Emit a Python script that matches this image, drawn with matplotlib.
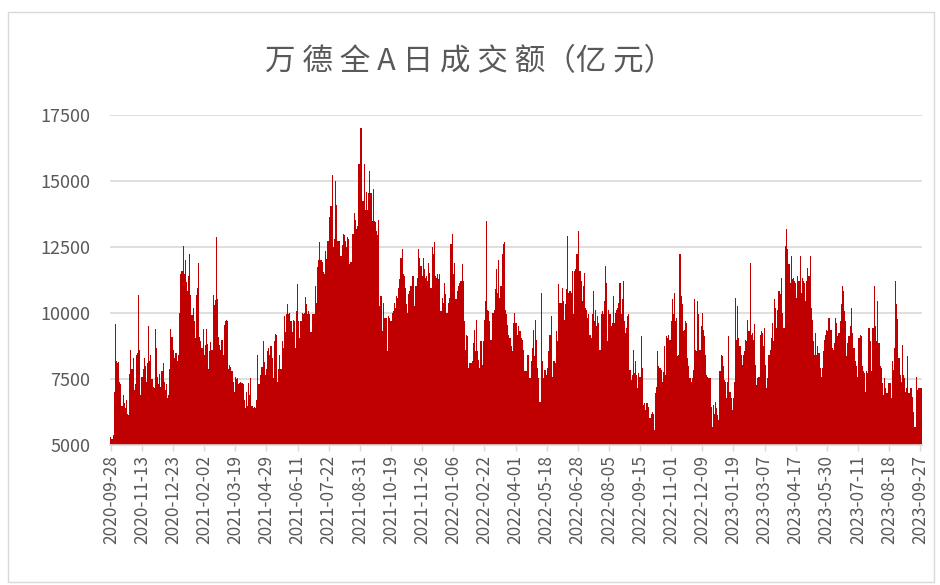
import matplotlib.pyplot as plt
import numpy as np
from matplotlib.patches import Rectangle

plt.rcParams['font.family'] = ['Noto Sans CJK SC', 'DejaVu Sans']

# 万德全A日成交额（亿元），按交易日读数
vol_2020q4 = [5300, 5250, 5400, 7000, 9600, 8200, 8100, 8150, 7400, 7300,
              6500, 6900, 6600, 6400, 6700, 6200, 6150, 7700, 8600, 7900,
              8300, 7100, 7300, 8400, 8500, 10700, 8600, 6900, 7600, 7900,
              8300, 8000, 7400, 8100, 9500, 8200, 8400, 7500, 7200, 7150,
              9400, 8700, 7600, 7300, 7700, 7200, 7800, 8100, 7400, 7100,
              7300, 6800, 6900, 7900, 9400, 9100, 8600, 8300, 8500]
vol_2021a = [8500, 8200, 8400, 10000, 11500, 11600, 12550, 11500, 12000, 11200,
             10850, 11400, 12250, 10700, 9950, 10200, 9700, 9050, 10700, 10970,
             11900, 9100, 8950, 8700, 9400, 8400, 8800, 9400, 8850, 7900,
             8550, 8900, 8600, 10700, 10300, 10500, 12870, 10550, 9100, 8800,
             8600, 9000, 8400, 9560, 9700, 9750, 9700, 7900, 8050, 7950,
             7800, 7400, 7000, 7600, 7500, 7550, 7300, 7350, 7400, 7350, 7300]
vol_2021b = [6700, 6400, 7000, 6500, 7350, 6900, 7550, 6500, 6400, 6450,
             6400, 6700, 8430, 7300, 7300, 7650, 7950, 8940, 8150, 7650,
             7900, 8550, 8700, 8430, 8750, 8300, 7550, 8940, 9200, 9190,
             7400, 7900, 8430, 7900, 8940, 8700, 9900, 9300, 9960, 10330,
             9960, 10000, 9700, 9300, 9750, 9700, 8700, 10100, 11100, 9700,
             9050, 9700, 10000, 9960, 10000, 10600, 10330, 9960, 10100, 9960, 9300]
vol_2021c = [9960, 9960, 9960, 11030, 10400, 11750, 12000, 12700, 12000, 11950,
             11550, 11500, 12370, 12050, 12750, 12750, 13640, 14080, 15220, 12500,
             12800, 15000, 14100, 12750, 12750, 12750, 12150, 12600, 13000, 12950,
             12750, 12500, 12870, 12800, 11850, 11950, 13000, 13000, 13800, 13550,
             13200, 13300, 15670, 15670, 17000, 14270, 14270, 15670, 13900, 14600,
             13900, 14550, 15400, 14550, 13500, 14720, 13500, 13450, 13100, 12950, 13550]
vol_2021d = [10270, 10650, 9320, 10400, 9830, 9830, 9830, 8560, 9900, 9830,
             9700, 10020, 10080, 10400, 10200, 10650, 10590, 10970, 11290, 12110,
             12430, 11480, 11410, 10970, 10330, 10020, 10710, 10840, 11030, 11410,
             11410, 10270, 11030, 11030, 11350, 12430, 12110, 11800, 11410, 12110,
             11670, 11350, 11410, 11220, 11920, 11540, 10970, 12500, 12240, 12680,
             11410, 11350, 11480, 11290, 11480, 10080, 10590, 10400, 11160, 10710, 10020]
vol_2022a = [10020, 10400, 10590, 12620, 13000, 11480, 11920, 10530, 10530, 10840,
             11030, 11160, 11220, 11860, 11220, 9700, 8620, 9190, 9130, 7920,
             8120, 8120, 8180, 8880, 9380, 8560, 9760, 8560, 8240, 7920,
             8940, 8050, 8940, 9760, 10460, 13500, 10140, 10080, 9700, 9000,
             10020, 10020, 10140, 10900, 11670, 10780, 12000, 10590, 11030, 12240,
             12620, 12680, 10140, 9960, 9570, 9190, 9060, 8750, 8560, 9640, 10020]
vol_2022b = [9640, 9640, 9190, 9510, 9320, 9060, 9000, 8620, 7800, 7800,
             7800, 8430, 8430, 7540, 8180, 8690, 9380, 8370, 9760, 9000,
             7920, 7540, 6650, 10780, 8180, 7540, 7860, 7860, 7670, 7920,
             8560, 9190, 9900, 7600, 8180, 8180, 8120, 9320, 8940, 11100,
             10400, 10400, 10970, 10460, 9760, 10330, 10900, 12940, 10780, 10840,
             10780, 11600, 9960, 11600, 11670, 12240, 12240, 13130, 11600, 11220, 10460]
vol_2022c = [11030, 11540, 10200, 10140, 9830, 9960, 9190, 9060, 9960, 10840,
             9700, 10140, 9510, 9890, 9640, 8620, 9960, 10080, 9960, 10460,
             11800, 11160, 8940, 10140, 9960, 9510, 9640, 10650, 9640, 10020,
             10140, 10200, 10400, 11160, 9960, 10520, 11220, 9700, 9250, 9440,
             9890, 9960, 7860, 7480, 7670, 8620, 7730, 8180, 7670, 7160,
             7730, 7600, 9130, 7920, 6520, 6590, 6330, 6590, 6590, 6460, 6020]
vol_2022d = [6200, 6270, 6200, 5570, 6970, 7220, 8560, 7990, 7920, 7860,
             7410, 7790, 8750, 7670, 9130, 9060, 9190, 9000, 9700, 10520,
             9960, 10780, 9700, 9830, 8370, 8430, 12240, 10650, 10330, 9320,
             9380, 9700, 9640, 8300, 7990, 7540, 7410, 7540, 7860, 10520,
             8620, 8560, 10460, 9960, 8620, 9510, 10020, 9380, 9130, 8430,
             7670, 7600, 7540, 7540, 6460, 5700, 6520, 6200, 6650, 6390, 6140]
vol_2023a = [5950, 7800, 8430, 8370, 7990, 7480, 7410, 6780, 7410, 9130,
             7030, 6780, 6330, 6780, 7410, 10590, 9000, 10270, 9060, 8750,
             8430, 8050, 8430, 8560, 9000, 8940, 9760, 9320, 11920, 9190,
             9250, 9000, 9580, 8050, 7290, 7540, 7600, 9190, 9320, 9250,
             8750, 9450, 8050, 7160, 7540, 8430, 8620, 9060, 9640, 8940,
             10520, 10200, 9450, 10140, 10840, 10710, 11350, 10020, 9450, 9450, 12530]
vol_2023b = [13200, 12430, 11860, 11160, 12170, 11290, 11350, 11220, 11160, 10590,
             11410, 11220, 12170, 10780, 11350, 11220, 11160, 10460, 11220, 11730,
             11410, 12170, 10200, 9760, 8940, 8430, 9250, 8430, 8750, 8500,
             7920, 7600, 7920, 8560, 9000, 9190, 9380, 9320, 9830, 9380,
             9380, 8690, 8620, 8880, 9830, 9640, 9130, 9250, 9700, 10330,
             11030, 10840, 10080, 9700, 8370, 8880, 9130, 9510, 10210, 9250, 8690]
vol_2023c = [8690, 8180, 7990, 7600, 9060, 9190, 9130, 7990, 7800, 7730,
             7030, 7800, 7730, 9450, 8940, 7800, 9450, 9450, 11030, 9510,
             8940, 10460, 8880, 7990, 7920, 7350, 6900, 7540, 7160, 6970,
             6970, 7350, 7350, 6780, 8180, 7860, 8690, 11220, 10330, 9770,
             8310, 7670, 7410, 8810, 7670, 7540, 7030, 7160, 8370, 6970,
             7160, 7160, 6840, 6270, 5700, 5700, 7600, 7100, 7160, 7160, 7160]

tick_labels = ['2020-09-28', '2020-11-13', '2020-12-23', '2021-02-02', '2021-03-19',
               '2021-04-29', '2021-06-11', '2021-07-22', '2021-08-31', '2021-10-19',
               '2021-11-26', '2022-01-06', '2022-02-22', '2022-04-01', '2022-05-18',
               '2022-06-28', '2022-08-05', '2022-09-15', '2022-11-01', '2022-12-09',
               '2023-01-19', '2023-03-07', '2023-04-17', '2023-05-30', '2023-07-11',
               '2023-08-18', '2023-09-27']

volume = np.array(vol_2020q4 + vol_2021a + vol_2021b + vol_2021c + vol_2021d
                  + vol_2022a + vol_2022b + vol_2022c + vol_2022d
                  + vol_2023a + vol_2023b + vol_2023c)
x = np.arange(len(volume))

fig = plt.figure(figsize=(9.4, 5.85), dpi=100)
ax = fig.add_axes([0.117, 0.239, 0.864, 0.564])

ax.bar(x, volume, width=1.0, color='#C00000', linewidth=0, zorder=2)

ax.set_ylim(5000, 17500)
ax.set_yticks(np.arange(5000, 17501, 2500))
ax.set_xlim(-0.8, len(volume) - 0.2)
tick_pos = np.arange(len(tick_labels)) * 28
ax.set_xticks(tick_pos)
ax.set_xticklabels(tick_labels, rotation=90)

ax.grid(axis='y', color='#d9d9d9', linewidth=1.2, zorder=0)
for s in ['top', 'right', 'left']:
    ax.spines[s].set_visible(False)
ax.spines['bottom'].set_color('#d9d9d9')
ax.spines['bottom'].set_linewidth(1.2)
ax.tick_params(axis='y', length=0, pad=14, labelsize=13, colors='#595959')
ax.tick_params(axis='x', length=4, width=1, color='#d9d9d9', pad=3,
               labelsize=12.5, labelcolor='#595959')

fig.text(0.5, 0.895, '万 德 全 A 日 成 交 额（亿 元）', ha='center', va='center',
         fontsize=22, color='#595959')

fig.patches.append(Rectangle((0.009, 0.005), 0.985, 0.975, transform=fig.transFigure,
                             fill=False, edgecolor='#d9d9d9', linewidth=1))

fig.savefig('out.png', dpi=100)
